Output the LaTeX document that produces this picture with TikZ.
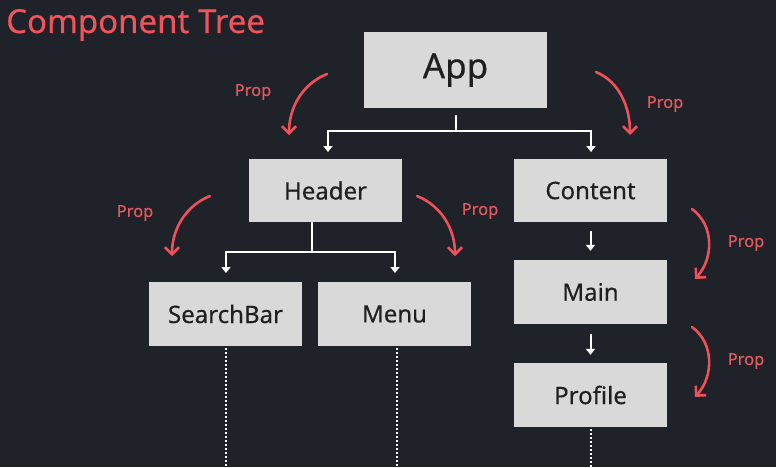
\documentclass[tikz,border=0pt]{standalone}
\usepackage{fontspec}
\setmainfont{Noto Sans}[FakeBold=0.35]
\usetikzlibrary{arrows.meta}
\definecolor{bg}{HTML}{1F2229}
\definecolor{boxfill}{HTML}{D9D9D9}
\definecolor{titlered}{HTML}{F2545B}
\definecolor{propred}{HTML}{F0505A}
\definecolor{proptext}{HTML}{E35A60}
\tikzset{
  comp/.style={fill=boxfill, draw=none, minimum width=153pt, minimum height=63pt, inner sep=0pt, font=\fontsize{24}{28}\selectfont, text=black!88},
  wline/.style={draw=white, line width=2pt},
  warrow/.style={draw=white, line width=2pt, -{Triangle[width=9pt,length=6pt]}},
  dotline/.style={draw=white, line width=2pt, dash pattern=on 2pt off 2pt},
  proparrow/.style={draw=propred, line width=2.6pt, line cap=round, -{Straight Barb[length=7pt,width=14pt,line width=2.6pt]}},
  proplabel/.style={text=proptext, font=\fontsize{16.5}{20}\selectfont, inner sep=0pt},
}
\begin{document}
\begin{tikzpicture}[x=1pt,y=-1pt]
\fill[bg] (0,0) rectangle (776,467);
\useasboundingbox (0,0) rectangle (776,467);

\node[text=titlered, font=\fontsize{33}{38}\selectfont, anchor=west, inner sep=0pt] (title) at (6,25) {Component Tree};

\node[comp, minimum width=183pt, minimum height=76pt, font=\fontsize{35}{40}\selectfont] (app) at (455.5,70) {App};
\node[comp] (header) at (325.5,190.5) {Header};
\node[comp] (content) at (590.5,190.5) {Content};
\node[comp, minimum height=64pt] (search) at (225.5,314) {SearchBar};
\node[comp, minimum height=64pt] (menu) at (394.5,314) {Menu};
\node[comp, minimum height=64pt] (main) at (590.5,292) {Main};
\node[comp, minimum height=64pt] (profile) at (590.5,395) {Profile};

% App -> Header, Content
\coordinate (j1) at (455.5,131);
\coordinate (hl) at (328,152);
\coordinate (hr) at (591,152);
\draw[wline] ([yshift=-7pt]app.south) -- (j1);
\draw[warrow] (j1) -| (hl);
\draw[warrow] (j1) -| (hr);

% Header -> SearchBar, Menu
\coordinate (hs) at (312,222);
\coordinate (j2) at (312,252);
\coordinate (sl) at (226,273);
\coordinate (sr) at (395,273);
\draw[wline] (hs) -- (j2);
\draw[warrow] (j2) -| (sl);
\draw[warrow] (j2) -| (sr);

% Content -> Main -> Profile
\draw[warrow] ([yshift=-9pt]content.south) -- ([yshift=9pt]main.north);
\draw[warrow] ([yshift=-10pt]main.south) -- ([yshift=8pt]profile.north);

% dotted continuations
\coordinate (se) at (225.7,467);
\coordinate (me) at (397,467);
\coordinate (pe) at (591,467);
\draw[dotline] ([xshift=0.2pt,yshift=-2pt]search.south) -- (se);
\draw[dotline] ([xshift=2.5pt,yshift=-2pt]menu.south) -- (me);
\draw[dotline] ([xshift=0.5pt,yshift=-2pt]profile.south) -- (pe);

% Prop arrows
\coordinate (p1s) at (327,74);  \coordinate (p1e) at (289,135);
\coordinate (p2s) at (596,72);  \coordinate (p2e) at (630,135);
\coordinate (p3s) at (210,196); \coordinate (p3e) at (172,256);
\coordinate (p4s) at (417,196); \coordinate (p4e) at (455,256);
\coordinate (p5s) at (692,209); \coordinate (p5e) at (695,279);
\coordinate (p6s) at (692,327); \coordinate (p6e) at (695,397);
\draw[proparrow] (p1s) .. controls (302,84) and (289,108) .. (p1e);
\draw[proparrow] (p2s) .. controls (620,82) and (630,108) .. (p2e);
\draw[proparrow] (p3s) .. controls (185,206) and (172,230) .. (p3e);
\draw[proparrow] (p4s) .. controls (442,206) and (455,230) .. (p4e);
\draw[proparrow] (p5s) .. controls (714,225) and (714,258) .. (p5e);
\draw[proparrow] (p6s) .. controls (714,343) and (714,376) .. (p6e);

\node[proplabel] (l1) at (253,92) {Prop};
\node[proplabel] (l2) at (665,104) {Prop};
\node[proplabel] (l3) at (135,213) {Prop};
\node[proplabel] (l4) at (480,211) {Prop};
\node[proplabel] (l5) at (746,243) {Prop};
\node[proplabel] (l6) at (746,361) {Prop};
\end{tikzpicture}
\end{document}
